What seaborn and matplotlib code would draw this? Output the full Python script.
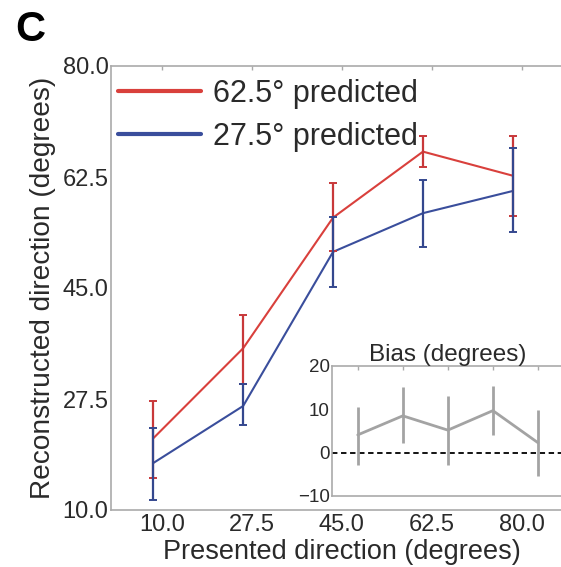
import numpy as np
import pandas as pd
import matplotlib
matplotlib.use("Agg")
import matplotlib.pyplot as plt
import seaborn as sns
from matplotlib.lines import Line2D

# ---- data ----
presented_ticks = [10.0, 27.5, 45.0, 62.5, 80.0]
presented_x = [8.3, 25.8, 43.3, 60.8, 78.3]

red_label = "62.5° predicted"
red_mean = [21.3, 35.5, 56.1, 66.5, 62.7]
red_upper = [27.2, 40.7, 61.6, 68.9, 68.9]
red_lower = [15.0, 29.9, 50.8, 64.1, 56.4]

blue_label = "27.5° predicted"
blue_mean = [17.4, 26.4, 50.7, 56.8, 60.3]
blue_upper = [22.9, 29.9, 56.2, 62.1, 67.0]
blue_lower = [11.6, 23.4, 45.2, 51.4, 53.8]

bias_mean = [4.1, 8.5, 5.2, 9.7, 2.3]
bias_upper = [10.6, 15.1, 13.1, 15.5, 9.9]
bias_lower = [-2.8, 2.2, -2.8, 4.1, -5.5]

yticks_main = [10.0, 27.5, 45.0, 62.5, 80.0]
yticks_bias = [-10, 0, 10, 20]

RED = "#d9403c"
RED_E = "#c8383a"
BLUE = "#3a4e9c"
BLUE_E = "#34478e"
GRAY = "#a3a3a3"
SPINE = "#aaaaaa"
TXT = "#2a2a2a"

sns.set_theme(style="white")
plt.rcParams["font.family"] = ["Liberation Sans", "DejaVu Sans"]

fig = plt.figure(figsize=(5.61, 5.67), dpi=100)
ax = fig.add_axes([110.6 / 561, 1 - 510 / 567, 462.4 / 561, 444 / 567])

df = pd.DataFrame({
    "x": presented_x * 2,
    "y": red_mean + blue_mean,
    "cond": [red_label] * 5 + [blue_label] * 5,
})
sns.lineplot(data=df, x="x", y="y", hue="cond", palette={red_label: RED, blue_label: BLUE},
             lw=1.5, ax=ax, legend=False, zorder=3)

for mean, up, lo, col in [(red_mean, red_upper, red_lower, RED_E),
                          (blue_mean, blue_upper, blue_lower, BLUE_E)]:
    m = np.array(mean)
    yerr = np.vstack([m - np.array(lo), np.array(up) - m])
    ax.errorbar(presented_x, m, yerr=yerr, fmt="none", ecolor=col, elinewidth=1.6,
                capsize=2.6, capthick=1.4, zorder=4)

ax.set_xlim(0, 90)
ax.set_ylim(10, 80)
ax.set_xticks(presented_ticks)
ax.set_xticklabels([f"{v:.1f}" for v in presented_ticks])
ax.set_yticks(yticks_main)
ax.set_yticklabels([f"{v:.1f}" for v in yticks_main])
ax.tick_params(axis="both", direction="in", length=3, width=1, color=SPINE,
               labelsize=17, labelcolor=TXT, top=True, right=False)
ax.tick_params(axis="x", pad=3)
ax.tick_params(axis="y", pad=1.5)
for s in ax.spines.values():
    s.set_color(SPINE)
    s.set_linewidth(1.2)
ax.spines["right"].set_visible(False)
ax.set_xlabel("Presented direction (degrees)", fontsize=19.5, color=TXT, labelpad=2)
ax.set_ylabel("Reconstructed direction (degrees)", fontsize=20.2, color=TXT, labelpad=5)

handles = [Line2D([0], [0], color=RED, lw=3), Line2D([0], [0], color=BLUE, lw=3)]
ax.legend(handles, [red_label, blue_label], loc="upper left",
          bbox_to_anchor=(0.0, 0.988), frameon=False, fontsize=22,
          handlelength=2.7, handletextpad=0.4, labelspacing=0.42,
          borderaxespad=0.15, borderpad=0.1, labelcolor=TXT)

# ---- inset ----
ax2 = fig.add_axes([332 / 561, 1 - 496 / 567, 231.7 / 561, 130 / 567])
ax2.set_facecolor("white")
bdf = pd.DataFrame({"x": presented_ticks, "bias": bias_mean})
ax2.axhline(0, color="black", lw=1.3, ls=(0, (3, 2)), zorder=1)
sns.lineplot(data=bdf, x="x", y="bias", color=GRAY, lw=2, ax=ax2, zorder=3)
bm = np.array(bias_mean)
berr = np.vstack([bm - np.array(bias_lower), np.array(bias_upper) - bm])
ax2.errorbar(presented_ticks, bm, yerr=berr, fmt="none", ecolor=GRAY, elinewidth=2,
             capsize=0, zorder=3)
ax2.set_xlim(0, 90)
ax2.set_ylim(-10, 20)
ax2.set_xticks(presented_ticks)
ax2.set_xticklabels([])
ax2.set_yticks(yticks_bias)
ax2.set_yticklabels(["\u221210", "0", "10", "20"])
ax2.tick_params(axis="both", direction="in", length=3, width=1, color=SPINE,
                labelsize=13.5, labelcolor=TXT, top=True, right=False, pad=1.5)
ax2.set_xlabel("")
ax2.set_ylabel("")
for s in ax2.spines.values():
    s.set_color(SPINE)
    s.set_linewidth(1.2)
ax2.spines["right"].set_visible(False)
ax2.set_title("Bias (degrees)", fontsize=17.5, color=TXT, pad=3)

fig.text(30 / 561, 1 - 30 / 567, "C", fontsize=30, fontweight="bold",
         ha="center", va="center", color="black")

fig.savefig("out.png", dpi=100)
